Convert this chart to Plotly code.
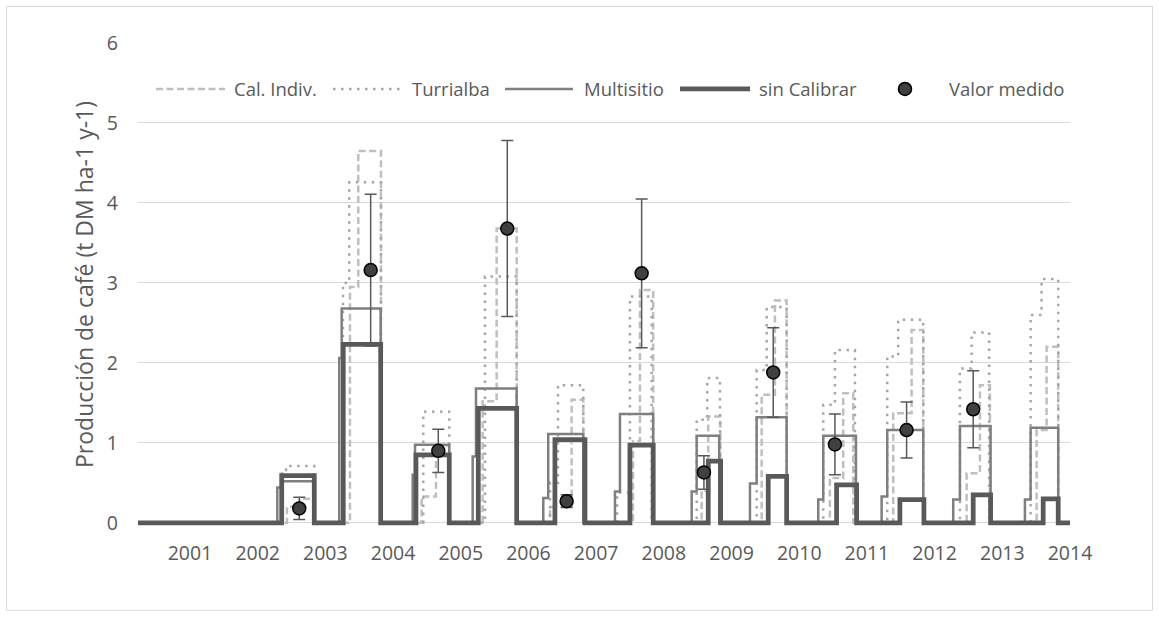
import plotly.graph_objects as go

# Axis extent (decimal years) and tick labels
x_start = 2000.232
x_end = 2014.0
year_ticks = list(range(2001, 2015))
year_labels = [str(y) for y in year_ticks]

# Simulated coffee production, step series (decimal year of each change, value after it)
cal_x = [x_start,
         2002.433, 2002.625, 2002.832,
         2003.363, 2003.486, 2003.821,
         2004.422, 2004.634, 2004.826,
         2005.323, 2005.530, 2005.826,
         2006.318, 2006.638, 2006.810,
         2007.544, 2007.647, 2007.843,
         2008.558, 2008.656, 2008.835,
         2009.445, 2009.641, 2009.814,
         2010.453, 2010.650, 2010.798,
         2011.389, 2011.660, 2011.832,
         2012.473, 2012.669, 2012.817,
         2013.507, 2013.654, 2013.826,
         x_end]
cal_y = [0,
         0.20, 0.30, 0,
         2.95, 4.65, 0,
         0.33, 0.97, 0,
         1.52, 3.68, 0,
         0.20, 1.54, 0,
         1.02, 2.91, 0,
         0.40, 1.33, 0,
         1.60, 2.78, 0,
         0.56, 1.62, 0,
         1.37, 2.41, 0,
         0.62, 1.72, 0,
         1.16, 2.20, 0,
         0]

tur_x = [x_start,
         2002.359, 2002.418, 2002.836,
         2003.260, 2003.353, 2003.821,
         2004.446, 2004.830,
         2005.357, 2005.826,
         2006.318, 2006.436, 2006.810,
         2007.308, 2007.499, 2007.820,
         2008.485, 2008.641, 2008.829,
         2009.371, 2009.519, 2009.814,
         2010.355, 2010.527, 2010.823,
         2011.300, 2011.462, 2011.832,
         2012.374, 2012.547, 2012.806,
         2013.418, 2013.580, 2013.826,
         x_end]
tur_y = [0,
         0.66, 0.71, 0,
         3.00, 4.26, 0,
         1.39, 0,
         3.08, 0,
         0.50, 1.72, 0,
         0.38, 2.83, 0,
         1.29, 1.81, 0,
         1.91, 2.70, 0,
         1.475, 2.16, 0,
         2.08, 2.54, 0,
         1.93, 2.38, 0,
         2.60, 3.05, 0,
         0]

mult_x = [x_start,
          2002.290, 2002.355, 2002.824,
          2003.205, 2003.241, 2003.817,
          2004.290, 2004.324, 2004.830,
          2005.176, 2005.225, 2005.826,
          2006.219, 2006.292, 2006.810,
          2007.278, 2007.352, 2007.843,
          2008.411, 2008.485, 2008.818,
          2009.272, 2009.371, 2009.814,
          2010.281, 2010.355, 2010.838,
          2011.217, 2011.300, 2011.832,
          2012.275, 2012.374, 2012.827,
          2013.334, 2013.418, 2013.826,
          x_end]
mult_y = [0,
          0.44, 0.52, 0,
          2.06, 2.68, 0,
          0.60, 0.975, 0,
          0.83, 1.68, 0,
          0.31, 1.11, 0,
          0.39, 1.36, 0,
          0.39, 1.09, 0,
          0.49, 1.32, 0,
          0.29, 1.09, 0,
          0.33, 1.16, 0,
          0.29, 1.21, 0,
          0.29, 1.19, 0,
          0]

sin_x = [x_start,
         2002.355, 2002.836,
         2003.264, 2003.817,
         2004.338, 2004.830,
         2005.259, 2005.826,
         2006.391, 2006.835,
         2007.499, 2007.843,
         2008.656, 2008.839,
         2009.542, 2009.814,
         2010.552, 2010.848,
         2011.487, 2011.842,
         2012.570, 2012.827,
         2013.604, 2013.826,
         x_end]
sin_y = [0,
         0.59, 0,
         2.23, 0,
         0.85, 0,
         1.43, 0,
         1.04, 0,
         0.97, 0,
         0.77, 0,
         0.58, 0,
         0.475, 0,
         0.29, 0,
         0.35, 0,
         0.30, 0,
         0]

# Field measurements with their error
obs_x = [2002.614, 2003.669, 2004.668, 2005.687, 2006.564, 2007.672,
         2008.592, 2009.616, 2010.527, 2011.586, 2012.570]
obs_y = [0.18, 3.16, 0.90, 3.68, 0.27, 3.12, 0.63, 1.88, 0.98, 1.16, 1.42]
obs_err = [0.14, 0.95, 0.27, 1.10, 0.08, 0.93, 0.21, 0.56, 0.38, 0.35, 0.48]

FONT = "Open Sans"
TXT = "#595959"
DASH = "7px,3.5px"
DOT = "2.5px,5.5px"

styles = {
    "Cal. Indiv.": dict(color="#BFBFBF", width=2.5, dash=DASH),
    "Turrialba": dict(color="#A6A6A6", width=2.5, dash=DOT),
    "Multisitio": dict(color="#7F7F7F", width=2.5, dash="solid"),
    "sin Calibrar": dict(color="#595959", width=4.75, dash="solid"),
}

fig = go.Figure()
for name, xs, ys in [("Cal. Indiv.", cal_x, cal_y),
                     ("Turrialba", tur_x, tur_y),
                     ("Multisitio", mult_x, mult_y),
                     ("sin Calibrar", sin_x, sin_y)]:
    fig.add_trace(go.Scatter(x=xs, y=ys, mode="lines", name=name,
                             line=dict(shape="hv", **styles[name]),
                             showlegend=False, hoverinfo="skip"))

fig.add_trace(go.Scatter(
    x=obs_x, y=obs_y, mode="markers", name="Valor medido",
    marker=dict(size=13, color="#404040", line=dict(color="#000000", width=1.5)),
    error_y=dict(type="data", array=obs_err, visible=True,
                 color="#595959", thickness=1.5, width=6),
    showlegend=False))

# Plot-area geometry in pixels, used to place the legend row
W, H = 1159, 617
L, R, T, B = 138, 89, 43, 90.8
pw, ph = W - L - R, H - T - B


def px(x):
    return (x - L) / pw


def py(y):
    return (H - B - y) / ph


shapes = []
annotations = []
leg_y = py(89)
legend_items = [
    ("Cal. Indiv.", 156, 225, 232),
    ("Turrialba", 333, 400, 410),
    ("Multisitio", 505, 573, 581.5),
    ("sin Calibrar", 680, 750, 757),
]
for name, a, b, t in legend_items:
    st = styles[name]
    shapes.append(dict(type="line", xref="paper", yref="paper",
                       x0=px(a), x1=px(b), y0=leg_y, y1=leg_y,
                       line=dict(color=st["color"], width=st["width"], dash=st["dash"])))
    annotations.append(dict(xref="paper", yref="paper", x=px(t), y=leg_y,
                            text=name, showarrow=False, xanchor="left", yanchor="middle",
                            font=dict(family=FONT, size=18.5, color=TXT)))
# measured-value legend entry
r = 6.5
shapes.append(dict(type="circle", xref="paper", yref="paper",
                   x0=px(905 - r), x1=px(905 + r), y0=py(89 + r), y1=py(89 - r),
                   fillcolor="#404040", line=dict(color="#000000", width=1.5)))
annotations.append(dict(xref="paper", yref="paper", x=px(946.5), y=leg_y,
                        text="Valor medido", showarrow=False, xanchor="left", yanchor="middle",
                        font=dict(family=FONT, size=18.5, color=TXT)))

# chart-area frame
shapes.append(dict(type="rect", xref="paper", yref="paper", layer="below",
                   x0=px(6.5), x1=px(1152.5), y0=py(610.5), y1=py(6.5),
                   line=dict(color="#D9D9D9", width=1)))

fig.update_layout(
    width=W, height=H,
    margin=dict(l=L, r=R, t=T, b=B, pad=0),
    paper_bgcolor="white", plot_bgcolor="white",
    font=dict(family=FONT, size=19, color=TXT),
    shapes=shapes, annotations=annotations,
    xaxis=dict(range=[x_start, x_end], tickvals=year_ticks, ticktext=year_labels,
               showgrid=False, zeroline=False, showline=False, ticks="",
               ticklabelstandoff=13, tickfont=dict(size=19.5, color=TXT)),
    yaxis=dict(range=[-0.04, 6], tickvals=list(range(0, 7)),
               showgrid=True, gridcolor="#D9D9D9", gridwidth=1,
               zeroline=False, showline=False, ticks="",
               ticklabelstandoff=19, tickfont=dict(size=19.5, color=TXT),
               title=dict(text="Producción de café (t DM ha-1 y-1)", standoff=6,
                          font=dict(size=23, color=TXT))),
)

fig.write_html("out.html")
